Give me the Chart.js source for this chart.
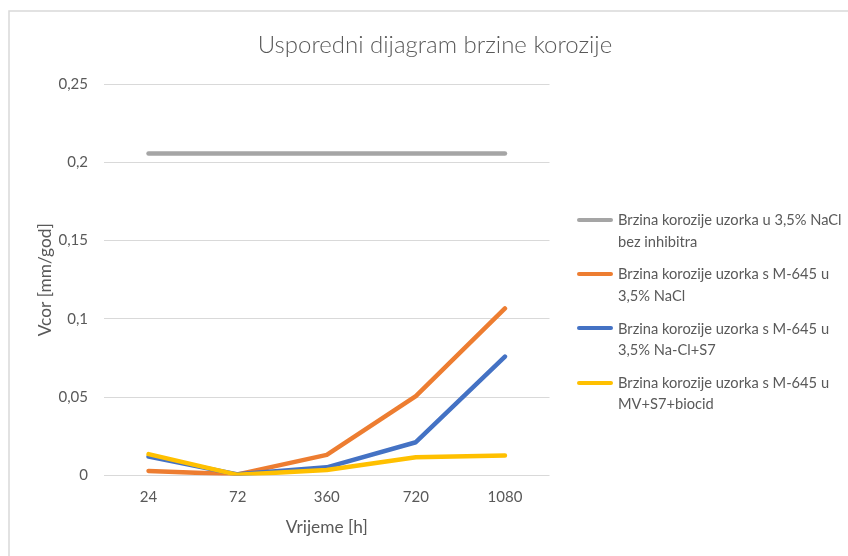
<!DOCTYPE html>
<html>
<head>
<meta charset="utf-8">
<title>Usporedni dijagram brzine korozije</title>
<script src="https://cdn.jsdelivr.net/npm/chart.js@4/dist/chart.umd.min.js"></script>
<style>
  html, body { margin: 0; padding: 0; background: #ffffff; }
  #wrap { position: relative; width: 848px; height: 556px; overflow: hidden; }
  #chart { position: absolute; left: 0; top: 0; }
  #legend {
    position: absolute; left: 577px; top: 0;
    font-family: Lato, "Liberation Sans", sans-serif;
    font-size: 14.67px; line-height: 21.5px; color: #595959;
  }
  .item { position: absolute; left: 0; padding-left: 41px; white-space: nowrap; }
  .swatch { position: absolute; left: 0; top: 8.75px; width: 36px; height: 4px; border-radius: 2px; }
</style>
</head>
<body>
<div id="wrap">
  <canvas id="chart" width="848" height="556"></canvas>
  <div id="legend"></div>
</div>
<script>
// Time points (hours)
const categories = ['24', '72', '360', '720', '1080'];

// Corrosion rate, mm/god
const bezInhibitora = [0.2057, 0.2057, 0.2057, 0.2057, 0.2057];
const m645NaCl      = [0.0030, 0.0008, 0.0132, 0.0508, 0.1067];
const m645NaClS7    = [0.0121, 0.0008, 0.0053, 0.0213, 0.0760];
const m645MvBiocid  = [0.0137, 0.0005, 0.0036, 0.0117, 0.0128];

// Series names, split into the lines shown in the legend
const seriesNames = [
  ['Brzina korozije uzorka u 3,5% NaCl', 'bez inhibitra'],
  ['Brzina korozije uzorka s M-645 u', '3,5% NaCl'],
  ['Brzina korozije uzorka s M-645 u', '3,5% Na-Cl+S7'],
  ['Brzina korozije uzorka s M-645 u', 'MV+S7+biocid']
];

// Y axis tick labels (decimal comma)
const yTickValues = [0, 0.05, 0.1, 0.15, 0.2, 0.25];
const yTickLabels = ['0', '0,05', '0,1', '0,15', '0,2', '0,25'];

const colors = ['#A5A5A5', '#ED7D31', '#4472C4', '#FFC000'];
const seriesData = [bezInhibitora, m645NaCl, m645NaClS7, m645MvBiocid];

const FONT = 'Lato, "Liberation Sans", sans-serif';
const TEXT = '#595959';
const GRID = '#D9D9D9';

// Thin frame along the top and left edge of the chart
const framePlugin = {
  id: 'frame',
  beforeDraw(chart) {
    const ctx = chart.ctx;
    ctx.save();
    ctx.fillStyle = '#ffffff';
    ctx.fillRect(0, 0, chart.width, chart.height);
    ctx.strokeStyle = GRID;
    ctx.lineWidth = 1.5;
    ctx.beginPath();
    ctx.moveTo(9, chart.height);
    ctx.lineTo(9, 11);
    ctx.lineTo(chart.width, 11);
    ctx.stroke();
    ctx.restore();
  }
};

const datasets = seriesData.map((d, i) => ({
  label: seriesNames[i].join(' '),
  data: d,
  borderColor: colors[i],
  backgroundColor: colors[i],
  borderWidth: 4.5,
  pointRadius: 0,
  pointHoverRadius: 0,
  tension: 0,
  fill: false,
  borderCapStyle: 'round',
  borderJoinStyle: 'round',
  order: seriesData.length - i   // later series drawn on top
}));

const chart = new Chart(document.getElementById('chart'), {
  type: 'line',
  data: { labels: categories, datasets },
  plugins: [framePlugin],
  options: {
    responsive: false,
    animation: false,
    devicePixelRatio: 1,
    layout: { padding: { left: 22, right: 0, top: 0, bottom: 0 } },
    plugins: {
      legend: { display: false },
      tooltip: { enabled: false },
      title: {
        display: true,
        text: 'Usporedni dijagram brzine korozije',
        color: TEXT,
        font: { family: FONT, size: 24, weight: 300, lineHeight: 1.2 },
        padding: { top: 30.6, bottom: 24.6 }
      }
    },
    scales: {
      x: {
        type: 'category',
        offset: true,
        grid: { display: false, drawTicks: false },
        border: { display: false },
        ticks: { color: TEXT, font: { family: FONT, size: 15 }, padding: 13, maxRotation: 0 },
        title: {
          display: true, text: 'Vrijeme [h]', color: TEXT,
          font: { family: FONT, size: 17.3, lineHeight: 1.2 },
          padding: { top: 0, bottom: 18.6 }
        },
        afterFit(s) { s.height = 80.4; }
      },
      y: {
        type: 'linear',
        position: 'left',
        min: 0,
        max: 0.25,
        afterBuildTicks(s) { s.ticks = yTickValues.map(v => ({ value: v })); },
        grid: { color: GRID, lineWidth: 1, drawTicks: false },
        border: { display: false },
        ticks: {
          color: TEXT, font: { family: FONT, size: 15 }, padding: 16,
          callback: (v) => {
            const i = yTickValues.findIndex(t => Math.abs(t - v) < 1e-9);
            return i >= 0 ? yTickLabels[i] : '';
          }
        },
        title: {
          display: true, text: 'Vcor [mm/god]', color: TEXT,
          font: { family: FONT, size: 17.3, lineHeight: 1.2 },
          padding: { top: 12.6, bottom: 0 }
        },
        afterFit(s) { s.width = 82; }
      },
      // empty axis reserving the space on the right taken by the legend
      legendSpace: {
        type: 'linear',
        position: 'right',
        display: true,
        grid: { display: false },
        border: { display: false },
        ticks: { display: false },
        afterFit(s) { s.width = 298.5; }
      }
    }
  }
});

// Legend built from the chart's datasets
const legend = document.getElementById('legend');
const legendTop = 209.25;
const legendStep = 54.2;
chart.data.datasets.forEach((ds, i) => {
  const item = document.createElement('div');
  item.className = 'item';
  item.style.top = (legendTop + i * legendStep) + 'px';
  const sw = document.createElement('div');
  sw.className = 'swatch';
  sw.style.background = ds.borderColor;
  item.appendChild(sw);
  seriesNames[i].forEach(line => {
    const l = document.createElement('div');
    l.textContent = line;
    item.appendChild(l);
  });
  legend.appendChild(item);
});
</script>
</body>
</html>
